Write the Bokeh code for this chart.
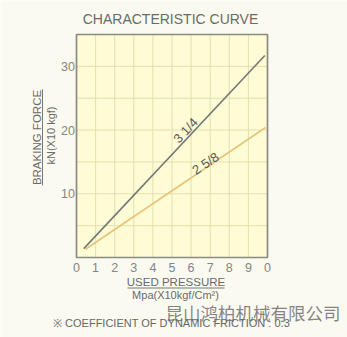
from bokeh.plotting import figure
from bokeh.embed import file_html
from bokeh.resources import INLINE
from bokeh.core.properties import value
import math

# ---- data ----
x_ticks = [0, 1, 2, 3, 4, 5, 6, 7, 8, 9, 10]
x_tick_labels = ["0", "1", "2", "3", "4", "5", "6", "7", "8", "9", "0"]
y_ticks = [10, 20, 30]
y_tick_labels = ["10", "20", "30"]
y_grid = [5, 10, 15, 20, 25, 30]
x_max, y_max = 10, 35
series_names = ["3 1/4", "2 5/8"]
p314_x = [0.38, 9.86]
p314_y = [1.4, 31.7]
p258_x = [0.47, 9.9]
p258_y = [1.3, 20.4]

PAGE = "#fbfaf0"
AREA = "#fdfcd4"
GRID = "#e2e0b0"
TXT = "#6a6a6a"
FONT = "Liberation Sans"

W, H = 347, 337
# pixel geometry of the plotting box inside the picture
L, R, T, B = 76, 267, 34, 257
sx = (R - L) / x_max
sy = (B - T) / y_max

def X(px):
    return (px - L) / sx

def Y(py):
    return (B - py) / sy

p = figure(width=W, height=H, x_range=(X(0), X(W)), y_range=(Y(H), Y(0)),
           output_backend="svg", toolbar_location=None,
           x_axis_location=None, y_axis_location=None,
           min_border=0, min_border_left=0, min_border_right=0,
           min_border_top=0, min_border_bottom=0)
p.grid.visible = False
p.outline_line_color = None
p.background_fill_color = PAGE
p.border_fill_color = PAGE

# plot area
p.quad(left=[0], right=[x_max], bottom=[0], top=[y_max],
       fill_color=AREA, line_color=None)
# grid
gx = x_ticks[1:-1]
p.segment(x0=gx, y0=[0] * len(gx), x1=gx, y1=[y_max] * len(gx),
          line_color=GRID, line_width=1)
p.segment(x0=[0] * len(y_grid), y0=y_grid, x1=[x_max] * len(y_grid), y1=y_grid,
          line_color=GRID, line_width=1)
# frame
p.quad(left=[0], right=[x_max], bottom=[0], top=[y_max],
       fill_color=None, line_color="#8a8a86", line_width=1.7)

# tick labels
p.text(x=x_ticks, y=[Y(266.7)] * len(x_ticks), text=x_tick_labels,
       text_font=value(FONT), text_font_size="12.5px", text_color="#858585",
       text_align="center", text_baseline="middle")
p.text(x=[X(74.5)] * len(y_ticks), y=y_ticks, text=y_tick_labels,
       text_font=value(FONT), text_font_size="12.5px", text_color="#858585",
       text_align="right", text_baseline="middle")

# series
p.line(p314_x, p314_y, line_color="#77777a", line_width=1.6)
p.line(p258_x, p258_y, line_color="#e6c47c", line_width=1.6)
p.text(x=[5.71, 6.75], y=[19.93, 14.75], text=series_names,
       angle=[0.815, 0.594], text_font=value(FONT), text_font_size="13px",
       text_color="#5a5a5a", text_align="center", text_baseline="middle")

def lab(txt, px, py, size, angle=0, align="center", color=TXT, font=FONT, alpha=1.0):
    p.text(x=[X(px)], y=[Y(py)], text=[txt], text_font=value(font),
           text_font_size=size, text_color=color, text_align=align,
           text_baseline="middle", angle=angle, text_alpha=alpha)

lab("CHARACTERISTIC CURVE", 170, 18.3, "14px")
lab("BRAKING FORCE", 36, 137, "11.5px", angle=math.pi / 2)
lab("kN(X10 kgf)", 50.5, 135, "11px", angle=math.pi / 2)
lab("USED PRESSURE", 175.5, 281.5, "11.5px")
lab("Mpa(X10kgf/Cm²)", 175, 294.5, "11px")
lab("※ COEFFICIENT OF DYNAMIC FRICTION : 0.3", 171, 322, "11px", color="#666666")
lab("昆山鸿柏机械有限公司", 165, 311.5, "17.5px", align="left",
    color="#6f6f6f", font="Noto Sans CJK SC", alpha=0.85)

# underlines of the axis titles
p.line(x=[X(127), X(224)], y=[Y(287.5), Y(287.5)], line_color="#777777", line_width=1)
p.line(x=[X(42), X(42)], y=[Y(89), Y(185)], line_color="#777777", line_width=1)

open("out.html", "w").write(file_html(p, INLINE))
